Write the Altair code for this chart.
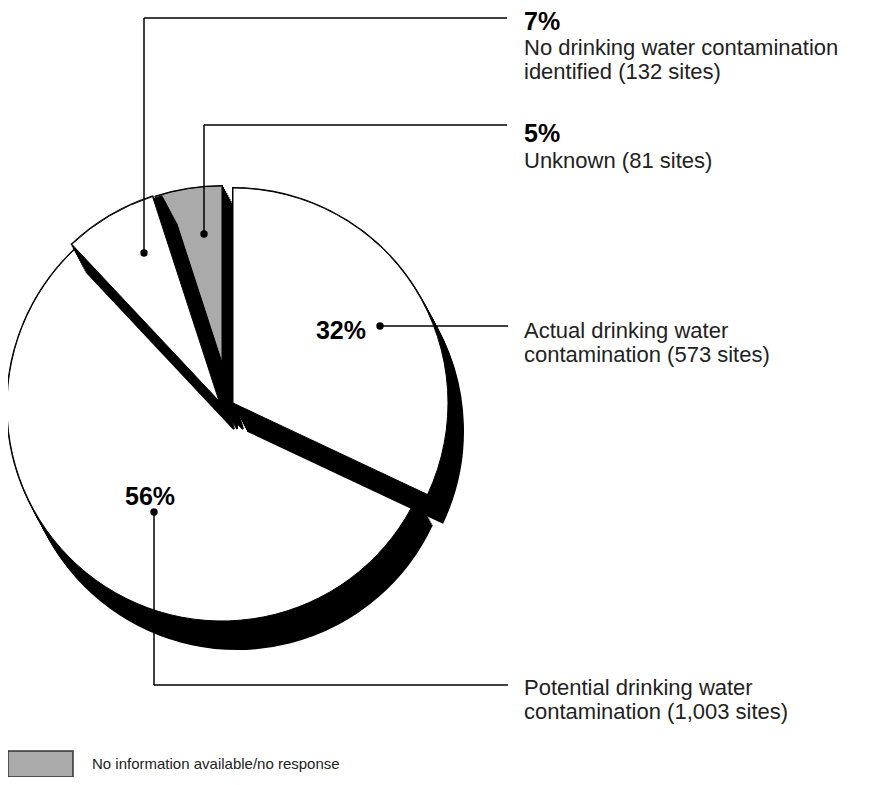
import math
import altair as alt
import pandas as pd

# ---------------- data ----------------
categories = [
    "Actual drinking water contamination",
    "Potential drinking water contamination",
    "No drinking water contamination identified",
    "Unknown",
]
percent = [32, 56, 7, 5]
sites = [573, 1003, 132, 81]
pct_labels = ["32%", "56%", "7%", "5%"]
label_lines = [
    ["Actual drinking water", "contamination (573 sites)"],
    ["Potential drinking water", "contamination (1,003 sites)"],
    ["No drinking water contamination", "identified (132 sites)"],
    ["Unknown (81 sites)"],
]
legend_label = "No information available/no response"

# ---------------- layout / style (page coordinates) ----------------
W, H = 868, 769
M = 8  # page margin
R = 215
fills = ["white", "white", "white", "#aaaaaa"]
centers = [(233, 403), (222, 406), (219, 401), (222, 401)]
# extra shift of each slice's dark side wall relative to its top face
wall_shifts = [[(0, 0)], [(0, 0)], [(0, 0), (9, 0)], [(0, 0)]]
draw_order = [1, 3, 2, 0]
SHADOW = (15, 28)
STEPS = 14

FONT = "Liberation Sans"
PCT_SIZE = 25
LABEL_SIZE = 22

pct_pos = [(366, 339, "right"), (150, 505, "center"), (524, 30, "left"), (524, 142, "left")]
label_pos = [(524, 338), (524, 695), (524, 55), (524, 168)]
LINE_GAP = 24
dots = [(380, 326), (154, 512), (144, 253), (204, 234)]
leaders = [
    [(380, 326), (508, 326)],
    [(154, 512), (154, 685), (508, 685)],
    [(144, 253), (144, 18), (507, 18)],
    [(204, 234), (204, 125), (507, 125)],
]

df = pd.DataFrame({"cat": categories, "pct": percent, "order": list(range(len(categories)))})
total = sum(percent)

xs = alt.Scale(domain=[0, W], range=[0, W])
ys = alt.Scale(domain=[0, H], range=[0, H])
theta_scale = alt.Scale(domain=[0, total], range=[0, 2 * math.pi])


def arc_layer(i, fill, stroke, sw, dx=0, dy=0):
    cx, cy = centers[i]
    return (
        alt.Chart(df)
        .transform_window(cum="sum(pct)", sort=[alt.SortField("order")])
        .transform_calculate(start="datum.cum - datum.pct")
        .transform_filter(alt.datum.order == i)
        .mark_arc(fill=fill, stroke=stroke, strokeWidth=sw, radius=R, xOffset=dx, yOffset=dy)
        .encode(
            theta=alt.Theta("start:Q", scale=theta_scale, stack=False),
            theta2="cum:Q",
            x=alt.value(cx - M),
            y=alt.value(cy - M),
        )
    )


layers = []
for i in draw_order:
    for (sx, sy) in wall_shifts[i]:
        for k in range(STEPS, -1, -1):
            layers.append(arc_layer(i, "black", "black", 2,
                                    sx + SHADOW[0] * k / STEPS, sy + SHADOW[1] * k / STEPS))
    layers.append(arc_layer(i, fills[i], "black", 1))

# leader lines
seg_rows = []
for path in leaders:
    for (a, b) in zip(path[:-1], path[1:]):
        seg_rows.append({"x": a[0] - M, "y": a[1] - M, "x2": b[0] - M, "y2": b[1] - M})
segs = pd.DataFrame(seg_rows)
layers.append(
    alt.Chart(segs).mark_rule(color="black", strokeWidth=1.5).encode(
        x=alt.X("x:Q", scale=xs, axis=None),
        y=alt.Y("y:Q", scale=ys, axis=None),
        x2="x2:Q",
        y2="y2:Q",
    )
)

dot_df = pd.DataFrame({"x": [d[0] - M for d in dots], "y": [d[1] - M for d in dots]})
layers.append(
    alt.Chart(dot_df).mark_circle(color="black", opacity=1, size=55).encode(
        x=alt.X("x:Q", scale=xs, axis=None), y=alt.Y("y:Q", scale=ys, axis=None)
    )
)

# percentage labels
for i, (px, py, al) in enumerate(pct_pos):
    t = pd.DataFrame({"t": [pct_labels[i]], "x": [px - M], "y": [py - M]})
    layers.append(
        alt.Chart(t).mark_text(font=FONT, fontSize=PCT_SIZE, fontWeight="bold", align=al,
                               baseline="alphabetic", color="black").encode(
            x=alt.X("x:Q", scale=xs, axis=None), y=alt.Y("y:Q", scale=ys, axis=None), text="t:N"
        )
    )

# descriptive labels
rows = []
for i, (lx, ly) in enumerate(label_pos):
    for j, line in enumerate(label_lines[i]):
        rows.append({"t": line, "x": lx - M, "y": ly + j * LINE_GAP - M})
lab = pd.DataFrame(rows)
layers.append(
    alt.Chart(lab).mark_text(font=FONT, fontSize=LABEL_SIZE, align="left", baseline="alphabetic",
                             color="#222222").encode(
        x=alt.X("x:Q", scale=xs, axis=None), y=alt.Y("y:Q", scale=ys, axis=None), text="t:N"
    )
)

# legend
leg_box = pd.DataFrame({"x": [8 - M], "x2": [73 - M], "y": [751 - M], "y2": [777 - M]})
layers.append(
    alt.Chart(leg_box).mark_rect(fill="#aaaaaa", stroke="#333333", strokeWidth=1.5).encode(
        x=alt.X("x:Q", scale=xs, axis=None), x2="x2:Q",
        y=alt.Y("y:Q", scale=ys, axis=None), y2="y2:Q",
    )
)
leg_t = pd.DataFrame({"t": [legend_label], "x": [92 - M], "y": [769 - M]})
layers.append(
    alt.Chart(leg_t).mark_text(font=FONT, fontSize=15, align="left", baseline="alphabetic",
                               color="#222222").encode(
        x=alt.X("x:Q", scale=xs, axis=None), y=alt.Y("y:Q", scale=ys, axis=None), text="t:N"
    )
)

chart = (
    alt.layer(*layers)
    .properties(width=W, height=H, padding=0, autosize=alt.AutoSizeParams(type="none"))
    .configure_view(stroke=None)
)

chart.save("out.html", embed_options={"renderer": "svg", "actions": False})
